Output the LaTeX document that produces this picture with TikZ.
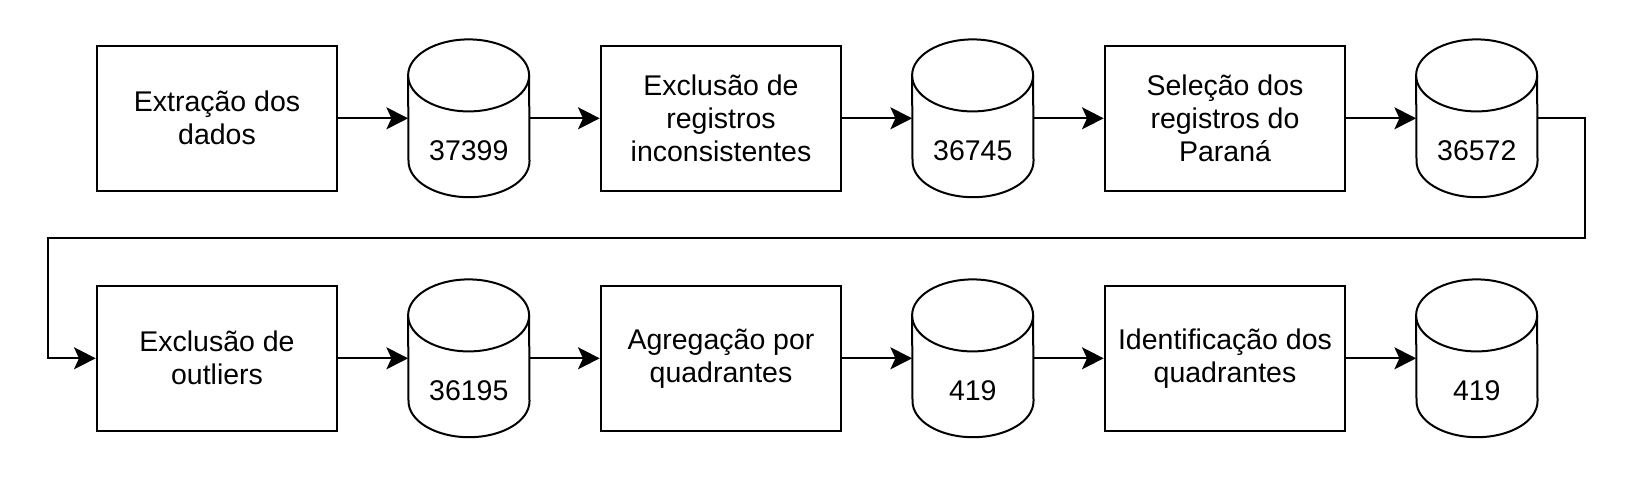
\documentclass[tikz,border=0pt]{standalone}
\usepackage{fontspec}
\setmainfont{Liberation Sans}
\usetikzlibrary{arrows.meta}
\tikzset{
  procbox/.style={draw, line width=2pt, fill=white, minimum width=240.6pt, minimum height=144.7pt,
    align=center, inner sep=0pt, font=\fontsize{28.5}{33}\selectfont},
  cylbox/.style={minimum width=121pt, minimum height=157.4pt, inner sep=0pt},
  cyltext/.style={font=\fontsize{28.5}{33}\selectfont, inner sep=0pt},
  cylline/.style={line width=2pt, fill=white},
  arr/.style={line width=2pt, -{Stealth[length=21.7pt, width=22pt, inset=5pt]}},
}
\newcommand{\mkcyl}[3]{%
  \node[cylbox] (#1) at (#2) {};
  \draw[cylline] ([yshift=-36pt]#1.north west) arc[start angle=180, end angle=0, x radius=60.5pt, y radius=36pt]
     -- ([yshift=36pt]#1.south east) arc[start angle=0, end angle=-180, x radius=60.5pt, y radius=36pt] -- cycle;
  \draw[line width=2pt] ([yshift=-36pt]#1.north west) arc[start angle=180, end angle=360, x radius=60.5pt, y radius=36pt];
  \node[cyltext] (#1t) at ([yshift=-32pt]#1.center) {#3};
}
\begin{document}
\begin{tikzpicture}[x=1pt, y=-1pt]
\fill[white] (0,0) rectangle (1642,480);
\useasboundingbox (0,0) rectangle (1642,480);
% row 1
\node[procbox] (b1) at (217,118.3) {Extração dos\\dados};
\mkcyl{c1}{468.8,118.3}{37399}
\node[procbox] (b2) at (721,118.3) {Exclusão de\\registros\\inconsistentes};
\mkcyl{c2}{972.8,118.3}{36745}
\node[procbox] (b3) at (1225,118.3) {Seleção dos\\registros do\\Paraná};
\mkcyl{c3}{1476.8,118.3}{36572}
% row 2
\node[procbox] (b4) at (217,358.3) {Exclusão de\\outliers};
\mkcyl{c4}{468.8,358.3}{36195}
\node[procbox] (b5) at (721,358.3) {Agregação por\\quadrantes};
\mkcyl{c5}{972.8,358.3}{419}
\node[procbox] (b6) at (1225,358.3) {Identificação dos\\quadrantes};
\mkcyl{c6}{1476.8,358.3}{419}
% connectors
\draw[arr] (b1.east) -- (c1.west);
\draw[arr] (c1.east) -- (b2.west);
\draw[arr] (b2.east) -- (c2.west);
\draw[arr] (c2.east) -- (b3.west);
\draw[arr] (b3.east) -- (c3.west);
\coordinate (tr) at (1585,238.3);
\coordinate (tl) at (48.2,238.3);
\draw[arr] (c3.east) -| (tr) -- (tl) |- (b4.west);
\draw[arr] (b4.east) -- (c4.west);
\draw[arr] (c4.east) -- (b5.west);
\draw[arr] (b5.east) -- (c5.west);
\draw[arr] (c5.east) -- (b6.west);
\draw[arr] (b6.east) -- (c6.west);
\end{tikzpicture}
\end{document}
